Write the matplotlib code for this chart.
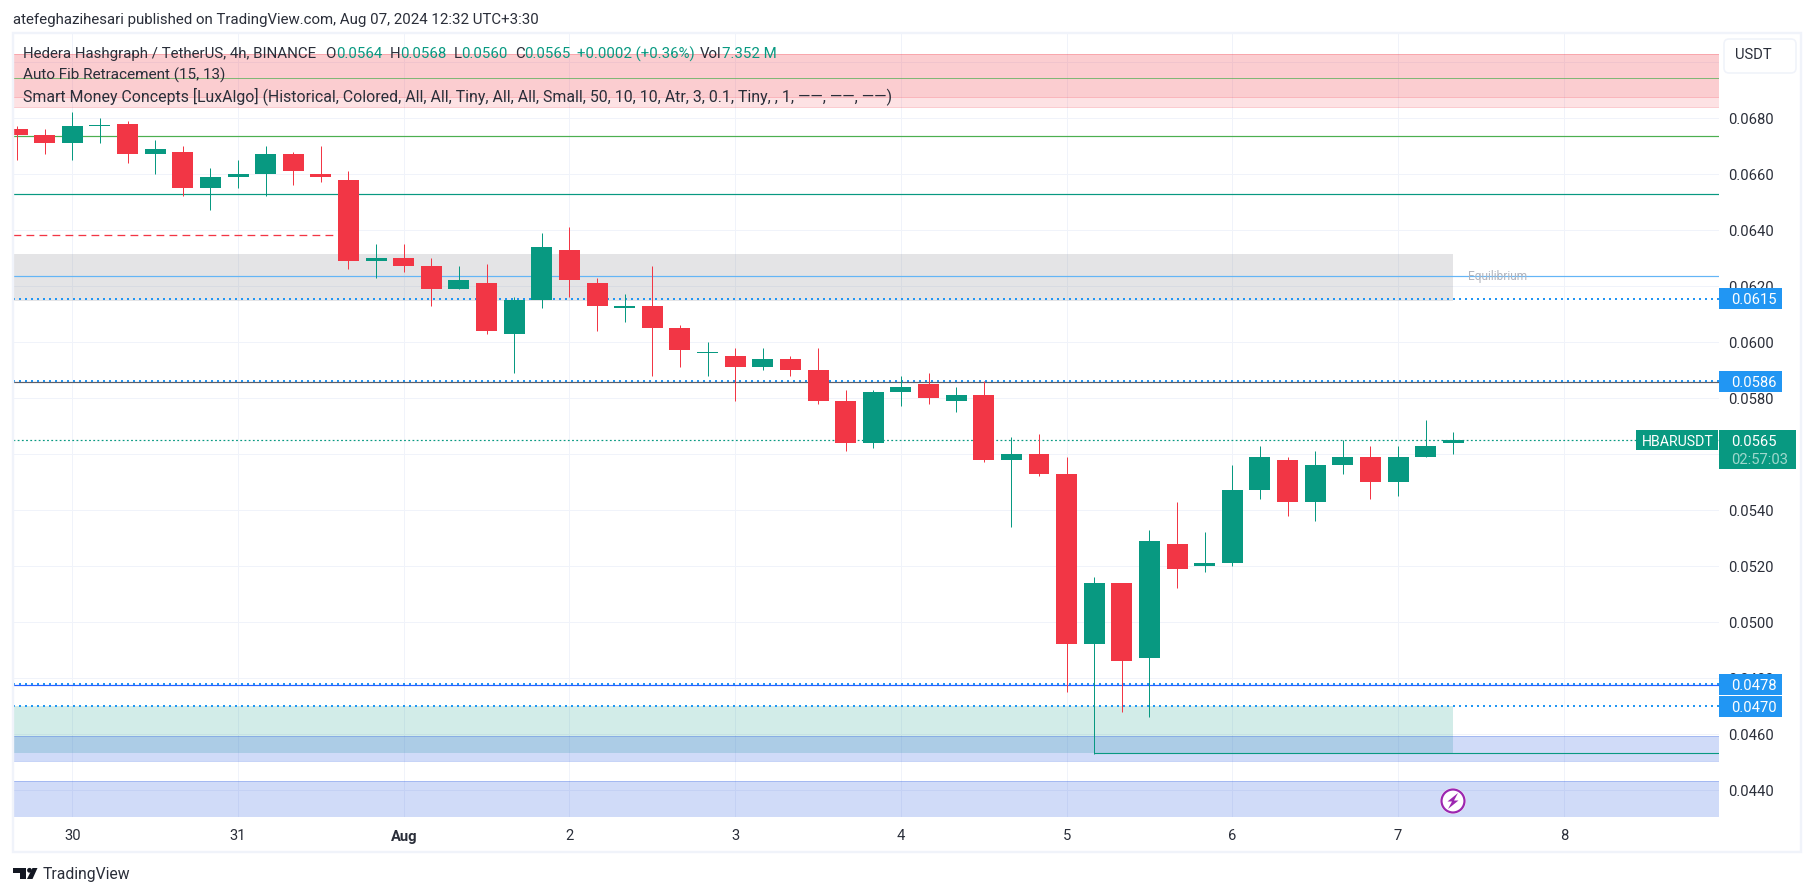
import matplotlib
matplotlib.use("Agg")
import matplotlib.pyplot as plt
from matplotlib.patches import Rectangle, FancyBboxPatch, Polygon, Circle

plt.rcParams["font.family"] = ["Roboto", "DejaVu Sans"]

# bars are 4h, index 0 is the bar at the "30" gridline
first_bar = -2
opens = [0.0676, 0.0674, 0.0671, 0.0677, 0.0678, 0.0667, 0.0668, 0.0655, 0.0659, 0.0660,
         0.0667, 0.0660, 0.0658, 0.0629, 0.0630, 0.0627, 0.0619, 0.0621, 0.0603, 0.0615,
         0.0633, 0.0621, 0.0612, 0.0613, 0.0605, 0.0596, 0.0595, 0.0591, 0.0594, 0.0590,
         0.0579, 0.0564, 0.0582, 0.0585, 0.0579, 0.0581, 0.0558, 0.0560, 0.0553, 0.0492,
         0.0514, 0.0487, 0.0528, 0.0520, 0.0521, 0.0547, 0.0558, 0.0543, 0.0556, 0.0559,
         0.0550, 0.0559, 0.0564]
closes = [0.0674, 0.0671, 0.0677, 0.0677, 0.0667, 0.0669, 0.0655, 0.0659, 0.0660, 0.0667,
          0.0661, 0.0659, 0.0629, 0.0630, 0.0627, 0.0619, 0.0622, 0.0604, 0.0615, 0.0634,
          0.0622, 0.0613, 0.0613, 0.0605, 0.0597, 0.0596, 0.0591, 0.0594, 0.0590, 0.0579,
          0.0564, 0.0582, 0.0584, 0.0580, 0.0581, 0.0558, 0.0560, 0.0553, 0.0492, 0.0514,
          0.0486, 0.0529, 0.0519, 0.0521, 0.0547, 0.0559, 0.0543, 0.0556, 0.0559, 0.0550,
          0.0559, 0.0563, 0.0565]
highs = [0.0677, 0.0676, 0.0682, 0.0680, 0.0679, 0.0672, 0.0670, 0.0662, 0.0665, 0.0670,
         0.0668, 0.0670, 0.0661, 0.0635, 0.0635, 0.0630, 0.0627, 0.0628, 0.0616, 0.0639,
         0.0641, 0.0623, 0.0617, 0.0627, 0.0606, 0.0600, 0.0598, 0.0598, 0.0595, 0.0598,
         0.0583, 0.0583, 0.0588, 0.0589, 0.0584, 0.0586, 0.0566, 0.0567, 0.0559, 0.0516,
         0.0514, 0.0533, 0.0543, 0.0532, 0.0556, 0.0563, 0.0559, 0.0561, 0.0565, 0.0563,
         0.0563, 0.0572, 0.0568]
lows = [0.0665, 0.0667, 0.0665, 0.0671, 0.0664, 0.0660, 0.0652, 0.0647, 0.0655, 0.0652,
        0.0656, 0.0657, 0.0626, 0.0623, 0.0625, 0.0613, 0.0619, 0.0603, 0.0589, 0.0612,
        0.0616, 0.0604, 0.0607, 0.0588, 0.0591, 0.0588, 0.0579, 0.0590, 0.0588, 0.0578,
        0.0561, 0.0562, 0.0577, 0.0578, 0.0575, 0.0557, 0.0534, 0.0552, 0.0475, 0.0453,
        0.0468, 0.0466, 0.0512, 0.0518, 0.0520, 0.0544, 0.0538, 0.0536, 0.0553, 0.0544,
        0.0545, 0.0559, 0.0560]

day_bars = [0, 6, 12, 18, 24, 30, 36, 42, 48, 54]
day_labels = ["30", "31", "Aug", "2", "3", "4", "5", "6", "7", "8"]
price_ticks = [0.0440, 0.0460, 0.0480, 0.0500, 0.0520, 0.0540, 0.0560, 0.0580, 0.0600,
               0.0620, 0.0640, 0.0660, 0.0680, 0.0700]
price_labels = ["0.0440", "0.0460", "0.0480", "0.0500", "0.0520", "0.0540", "0.0560", "0.0580",
                "0.0600", "0.0620", "0.0640", "0.0660", "0.0680", ""]

UP = "#089981"
DOWN = "#f23645"
BLUE = "#2196f3"
TEXT = "#2a2e39"
W, H = 1814, 896
PX = 72 / 100  # one pixel in points


def fx(px):
    return px / W


def fy(py):
    return 1 - py / H


fig = plt.figure(figsize=(W / 100, H / 100), dpi=100, facecolor="white")
ax = fig.add_axes([fx(13), fy(817), fx(1706), 783 / H])
ax.set_xlim(-2.147, 59.62)
ax.set_ylim(0.04304, 0.07100)
for s in ax.spines.values():
    s.set_visible(False)

ax.set_axisbelow(True)
ax.grid(True, color="#f0f3fa", lw=PX)
ax.yaxis.tick_right()
ax.set_yticks(price_ticks)
ax.set_yticklabels(price_labels)
ax.set_xticks(day_bars)
ax.set_xticklabels(day_labels)
ax.tick_params(axis="y", length=0, pad=6.5, labelsize=10.6, labelcolor=TEXT)
ax.tick_params(axis="x", length=0, pad=9, labelsize=10.6, labelcolor=TEXT)
ax.get_xticklabels()[2].set_fontweight("bold")

# supply zones
ax.axhspan(0.06841, 0.07029, color=DOWN, alpha=0.14, lw=0)
ax.axhspan(0.06874, 0.07029, color=DOWN, alpha=0.12, lw=0)
for p in [0.07029, 0.06874, 0.06841]:
    ax.axhline(p, color=DOWN, alpha=0.25, lw=PX)
ax.axhline(0.06943, color="#4caf50", alpha=0.7, lw=PX)

# equilibrium
ax.fill_between([-2.147, 50], 0.06147, 0.06315, color="#787b86", alpha=0.2, lw=0)
ax.text(50.55, 0.06234, "Equilibrium", color="#b2b5be", fontsize=8.6, va="center", ha="left")

# demand zones
ax.fill_between([-2.147, 50], 0.04533, 0.0470, color=UP, alpha=0.18, lw=0)
ax.axhspan(0.04504, 0.04594, color="#2157e0", alpha=0.21, lw=0)
ax.axhspan(0.04305, 0.04432, color="#2157e0", alpha=0.21, lw=0)
for p in [0.04504, 0.04594, 0.04432]:
    ax.axhline(p, color="#2157e0", alpha=0.25, lw=PX)

# levels
ax.axhline(0.06736, color="#4caf50", lw=1.2 * PX)
ax.axhline(0.06529, color=UP, lw=1.2 * PX)
ax.axhline(0.06236, color="#64b5f6", lw=1.2 * PX)
ax.hlines(0.06382, -2.147, 10, color=DOWN, lw=1.3 * PX, linestyles=(0, (6, 4)))
ax.hlines(0.04532, 37, 59.62, color=UP, lw=1.1 * PX)
for p in [0.06155, 0.05862, 0.0478, 0.0470]:
    ax.axhline(p, color=BLUE, lw=2 * PX, linestyle=(0, (1, 2)), zorder=2)
ax.axhline(0.05858, color="#5d606b", lw=1.2 * PX, zorder=3)
ax.axhline(0.04776, color="#2962ff", lw=1.2 * PX, zorder=3)
ax.axhline(0.0565, color=UP, lw=1.2 * PX, linestyle=(0, (1.5, 2)))

# candles
bars = list(range(first_bar, first_bar + len(opens)))
colors = [UP if c >= o else DOWN for o, c in zip(opens, closes)]
ax.vlines(bars, lows, highs, colors=colors, lw=PX, zorder=5)
bottoms = [min(o, c) for o, c in zip(opens, closes)]
heights = [max(abs(c - o), 0.00004) for o, c in zip(opens, closes)]
ax.bar(bars, heights, bottom=bottoms, width=0.76, color=colors, lw=0, zorder=6)

# price axis badges
ytr = ax.get_yaxis_transform()
PX_X = 1 / 1706
PX_P = 1 / 28000


def badge(price, label, color=BLUE, right=63, h=20.7, y_pad=0):
    top = price + (h / 2 + y_pad) * PX_P
    ax.add_patch(Rectangle((1, top - h * PX_P), right * PX_X, h * PX_P, transform=ytr, color=color,
                           lw=0, clip_on=False, zorder=20))
    ax.text(1 + 12 * PX_X, price + y_pad * PX_P, label, transform=ytr, color="white", fontsize=10.6,
            va="center_baseline", ha="left", clip_on=False, zorder=21)


badge(0.06155, "0.0615")
badge(0.05860, "0.0586")
badge(0.04780, "0.0478", y_pad=-0.5)
badge(0.04700, "0.0470", y_pad=-0.5)

# last price badge with countdown
ax.add_patch(Rectangle((1, 0.0565 - 28.5 * PX_P), 77 * PX_X, 38.7 * PX_P, transform=ytr, color=UP,
                       lw=0, clip_on=False, zorder=20))
ax.text(1 + 12 * PX_X, 0.0565, "0.0565", transform=ytr, color="white", fontsize=10.6,
        va="center_baseline", clip_on=False, zorder=21)
ax.text(1 + 12 * PX_X, 0.0565 - 18 * PX_P, "02:57:03", transform=ytr, color="#9fd8cd", fontsize=10.6,
        va="center_baseline", clip_on=False, zorder=21)
ax.add_patch(FancyBboxPatch((1 - 82.5 * PX_X, 0.0565 - 10.2 * PX_P), 81.5 * PX_X, 20.4 * PX_P,
                            boxstyle="square,pad=0", transform=ytr, color=UP, lw=0, zorder=20))
ax.text(1 - 77 * PX_X, 0.0565, "HBARUSDT", transform=ytr, color="white", fontsize=10.2,
        va="center_baseline", ha="left", zorder=21)

# lightning icon
ib = fig.transFigure
fig.add_artist(Circle((1453, H - 801), 13, transform=None, color="white", lw=0, zorder=30))
fig.add_artist(Circle((1453, H - 801), 11.5, transform=None, fc="white", ec="#9c27b0", lw=1.6, zorder=31))
fig.add_artist(Polygon([(1458, H - 793), (1447.5, H - 801.5), (1452, H - 801.5), (1448, H - 809),
                        (1458.5, H - 800.5), (1454, H - 800.5)], closed=True, transform=None,
                       color="#9c27b0", lw=0, zorder=32))

# frame around the chart
fig.add_artist(Rectangle((fx(13), fy(852)), fx(1788), 819 / H, transform=ib, fc="none", ec="#f0f3fa",
                         lw=2.4 * PX, zorder=3))

# currency button
fig.add_artist(FancyBboxPatch((1726, H - 71), 68, 30, boxstyle="round,pad=2,rounding_size=5",
                              transform=None, fc="white", ec="#f0f3fa", lw=1.6 * PX, zorder=5))
fig.text(fx(1735), fy(55), "USDT", color=TEXT, fontsize=10.6, va="center", zorder=6)

# header and legend
fig.text(fx(13), fy(20), "atefeghazihesari published on TradingView.com, Aug 07, 2024 12:32 UTC+3:30",
         color=TEXT, fontsize=10.8, va="center", zorder=6)
legend_top = [
    (23, "Hedera Hashgraph / TetherUS, 4h, BINANCE", TEXT),
    (325.5, "O", TEXT), (336, "0.0564", UP),
    (390, "H", TEXT), (400, "0.0568", UP),
    (453.5, "L", TEXT), (461, "0.0560", UP),
    (515.5, "C", TEXT), (524, "0.0565", UP),
    (577, "+0.0002 (+0.36%)", UP),
    (700, "Vol", TEXT), (722, "7.352 M", UP),
]
for x, s, c in legend_top:
    fig.text(fx(x), fy(54.3), s, color=c, fontsize=10.8, va="center", zorder=6)
fig.text(fx(23), fy(75.3), "Auto Fib Retracement (15, 13)", color=TEXT, fontsize=11.0, va="center", zorder=6)
fig.text(fx(23), fy(96), "Smart Money Concepts [LuxAlgo] (Historical, Colored, All, All, Tiny, All, All, "
         "Small, 50, 10, 10, Atr, 3, 0.1, Tiny, , 1, \u2014\u2014, \u2014\u2014, \u2014\u2014)",
         color=TEXT, fontsize=11.4, va="center", zorder=6)

# logo
logo = "#131722"
fig.add_artist(Polygon([(13, H - 868), (26, H - 868), (26, H - 879), (20, H - 879), (20, H - 873),
                        (13, H - 873)], transform=None, color=logo, lw=0))
fig.add_artist(Circle((29.5, H - 870.3), 2.4, transform=None, color=logo, lw=0))
fig.add_artist(Polygon([(32.5, H - 868), (37.5, H - 868), (32.5, H - 879), (27, H - 879)], transform=None,
                       color=logo, lw=0))
fig.text(fx(43), fy(874.5), "TradingView", color=TEXT, fontsize=11.3, va="center", zorder=6)

fig.savefig("out.png", dpi=100, facecolor="white")
